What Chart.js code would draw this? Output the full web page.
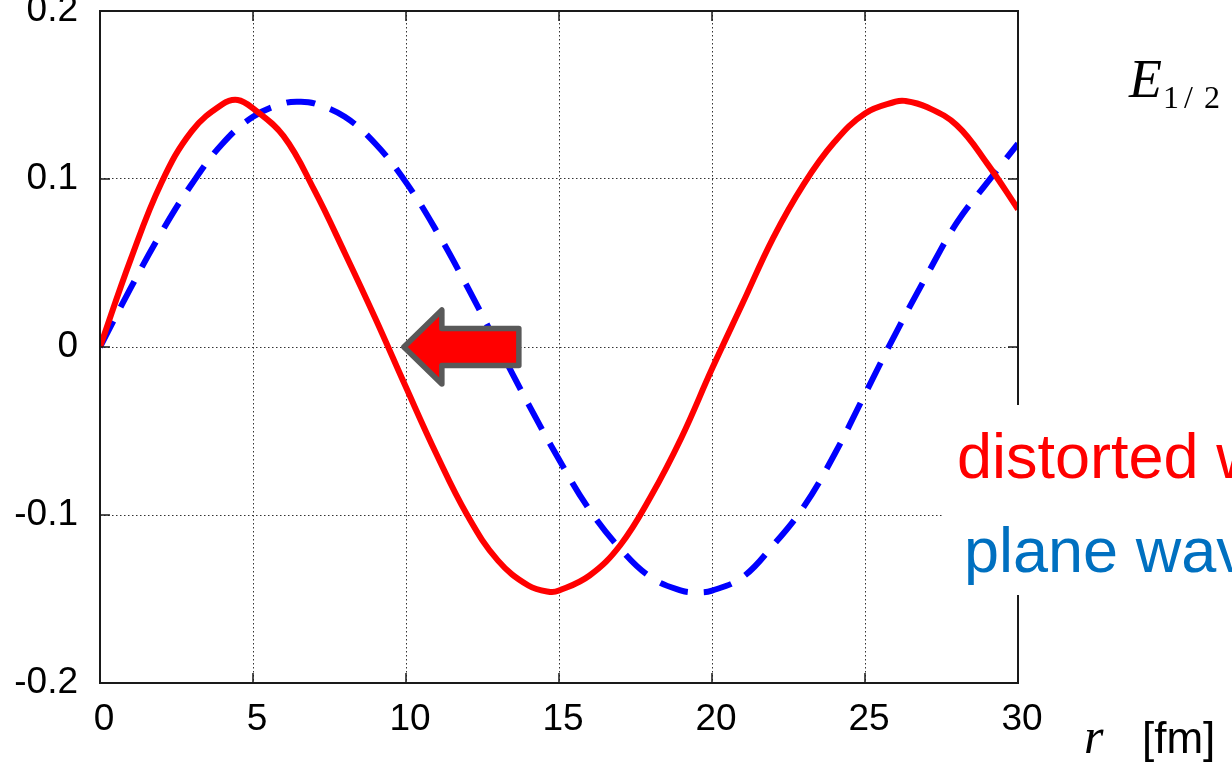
<!DOCTYPE html>
<html>
<head>
<meta charset="utf-8">
<script src="https://cdn.jsdelivr.net/npm/chart.js@4.4.1/dist/chart.umd.min.js"></script>
<style>
  html, body { margin: 0; padding: 0; background: #fff; }
  #wave { display: block; }
</style>
</head>
<body>
<canvas id="wave" width="1232" height="762"></canvas>
<script>
// r [fm] and the distorted wave (red, solid)
const rDistorted = [0, 1, 2, 3, 4, 4.5, 5, 6, 7, 8, 9, 10, 11, 12, 13, 14, 14.7, 15,
                    16, 17, 18, 19, 20, 21, 22, 23, 24, 25, 26, 26.3, 27, 28, 29, 30];
const distorted = [0, 0.052, 0.0975, 0.1285, 0.1445, 0.147, 0.142, 0.1255, 0.0935, 0.056, 0.017, -0.024,
                   -0.064, -0.100, -0.127, -0.142, -0.1458, -0.145,
                   -0.136, -0.118, -0.089, -0.054, -0.013, 0.026, 0.065, 0.097, 0.122, 0.139,
                   0.146, 0.1465, 0.143, 0.132, 0.109, 0.082];
// r [fm] and the plane wave (blue, dashed)
const rPlane = [0, 1, 2, 3, 4, 5, 6, 6.5, 7, 8, 9, 10, 11, 12, 13, 14, 15,
                16, 17, 18, 19, 19.5, 20, 21, 22, 23, 24, 25, 26, 27, 28, 29, 30];
const plane = [0, 0.035, 0.068, 0.097, 0.121, 0.137, 0.145, 0.146, 0.145, 0.137, 0.121, 0.098,
               0.069, 0.036, 0.001, -0.034, -0.067, -0.097, -0.120, -0.137, -0.145, -0.146, -0.145,
               -0.137, -0.118, -0.095, -0.064, -0.028, 0.008, 0.042, 0.074, 0.098, 0.121];

const xTicks = [0, 5, 10, 15, 20, 25, 30];
const yTicks = [-0.2, -0.1, 0, 0.1, 0.2];

const sansFont = "'Liberation Sans', Arial, sans-serif";
const serifFont = "'Liberation Serif', 'DejaVu Serif', serif";

// frame, inward ticks, arrow, labels
const decor = {
    id: 'decor',
    afterDraw(chart) {
        const { ctx, chartArea: a, scales: { x, y } } = chart;
        ctx.save();

        ctx.strokeStyle = '#1a1a1a';
        ctx.lineWidth = 2;
        ctx.strokeRect(a.left, a.top, a.right - a.left, a.bottom - a.top);

        ctx.lineWidth = 1.5;
        ctx.beginPath();
        xTicks.forEach(v => {
            const px = x.getPixelForValue(v);
            ctx.moveTo(px, a.bottom); ctx.lineTo(px, a.bottom - 10);
            ctx.moveTo(px, a.top); ctx.lineTo(px, a.top + 10);
        });
        yTicks.forEach(v => {
            const py = y.getPixelForValue(v);
            ctx.moveTo(a.left, py); ctx.lineTo(a.left + 10, py);
            ctx.moveTo(a.right, py); ctx.lineTo(a.right - 10, py);
        });
        ctx.stroke();

        // left-pointing arrow at the red zero crossing
        const tx = x.getPixelForValue(9.93);
        const ty = y.getPixelForValue(0);
        ctx.beginPath();
        ctx.moveTo(tx, ty);
        ctx.lineTo(tx + 38, ty - 37);
        ctx.lineTo(tx + 38, ty - 18.5);
        ctx.lineTo(tx + 115, ty - 18.5);
        ctx.lineTo(tx + 115, ty + 18.5);
        ctx.lineTo(tx + 38, ty + 18.5);
        ctx.lineTo(tx + 38, ty + 37);
        ctx.closePath();
        ctx.fillStyle = '#ff0000';
        ctx.fill();
        ctx.lineJoin = 'round';
        ctx.lineWidth = 5.5;
        ctx.strokeStyle = '#595959';
        ctx.stroke();

        // text box covering the right edge
        ctx.fillStyle = '#ffffff';
        ctx.fillRect(943, 405, 289, 190);

        ctx.textBaseline = 'alphabetic';
        ctx.textAlign = 'left';
        ctx.font = '63px ' + sansFont;
        ctx.fillStyle = '#ff0000';
        ctx.fillText('distorted wave', 957, 478);
        ctx.fillStyle = '#0070c0';
        ctx.fillText('plane wave', 964, 572);

        ctx.fillStyle = '#000000';
        ctx.font = 'italic 54px ' + serifFont;
        ctx.fillText('E', 1129, 97);
        ctx.font = '32px ' + serifFont;
        ctx.fillText('1', 1163, 108);
        ctx.fillText('/', 1184, 108);
        ctx.fillText('2', 1204, 108);

        ctx.font = 'italic 50px ' + serifFont;
        ctx.fillText('r', 1084, 753);
        ctx.font = '44px ' + sansFont;
        ctx.fillText('[fm]', 1142, 753);

        ctx.restore();
    }
};

new Chart(document.getElementById('wave'), {
    type: 'line',
    data: {
        datasets: [{
            label: 'distorted wave',
            data: rDistorted.map((r, i) => ({ x: r, y: distorted[i] })),
            borderColor: '#ff0000',
            borderWidth: 6,
            pointRadius: 0,
            tension: 0.4,
            fill: false
        }, {
            label: 'plane wave',
            data: rPlane.map((r, i) => ({ x: r, y: plane[i] })),
            borderColor: '#0000ff',
            borderWidth: 6,
            borderDash: [29, 16],
            borderCapStyle: 'butt',
            pointRadius: 0,
            tension: 0.4,
            fill: false
        }]
    },
    options: {
        responsive: false,
        animation: false,
        layout: { padding: { top: 11, right: 214, left: 0, bottom: 0 } },
        plugins: {
            legend: { display: false },
            tooltip: { enabled: false }
        },
        scales: {
            x: {
                type: 'linear',
                min: 0,
                max: 30,
                afterFit(scale) {
                    scale.height = 79;
                    scale.paddingLeft = 0;
                    scale.paddingRight = 0;
                },
                afterBuildTicks(scale) { scale.ticks = xTicks.map(v => ({ value: v })); },
                ticks: {
                    color: '#000',
                    font: { family: sansFont, size: 37 },
                    padding: 15,
                    labelOffset: 4,
                    maxRotation: 0
                },
                grid: { color: '#333', lineWidth: 1, drawTicks: false },
                border: { display: false, dash: [1.5, 2.5] }
            },
            y: {
                min: -0.2,
                max: 0.2,
                afterFit(scale) {
                    scale.width = 100;
                    scale.paddingTop = 0;
                    scale.paddingBottom = 0;
                },
                afterBuildTicks(scale) { scale.ticks = yTicks.map(v => ({ value: v })); },
                ticks: {
                    color: '#000',
                    font: { family: sansFont, size: 37 },
                    padding: 22,
                    callback: v => String(Math.round(v * 10) / 10)
                },
                grid: { color: '#333', lineWidth: 1, drawTicks: false },
                border: { display: false, dash: [1.5, 2.5] }
            }
        }
    },
    plugins: [decor]
});
</script>
</body>
</html>
